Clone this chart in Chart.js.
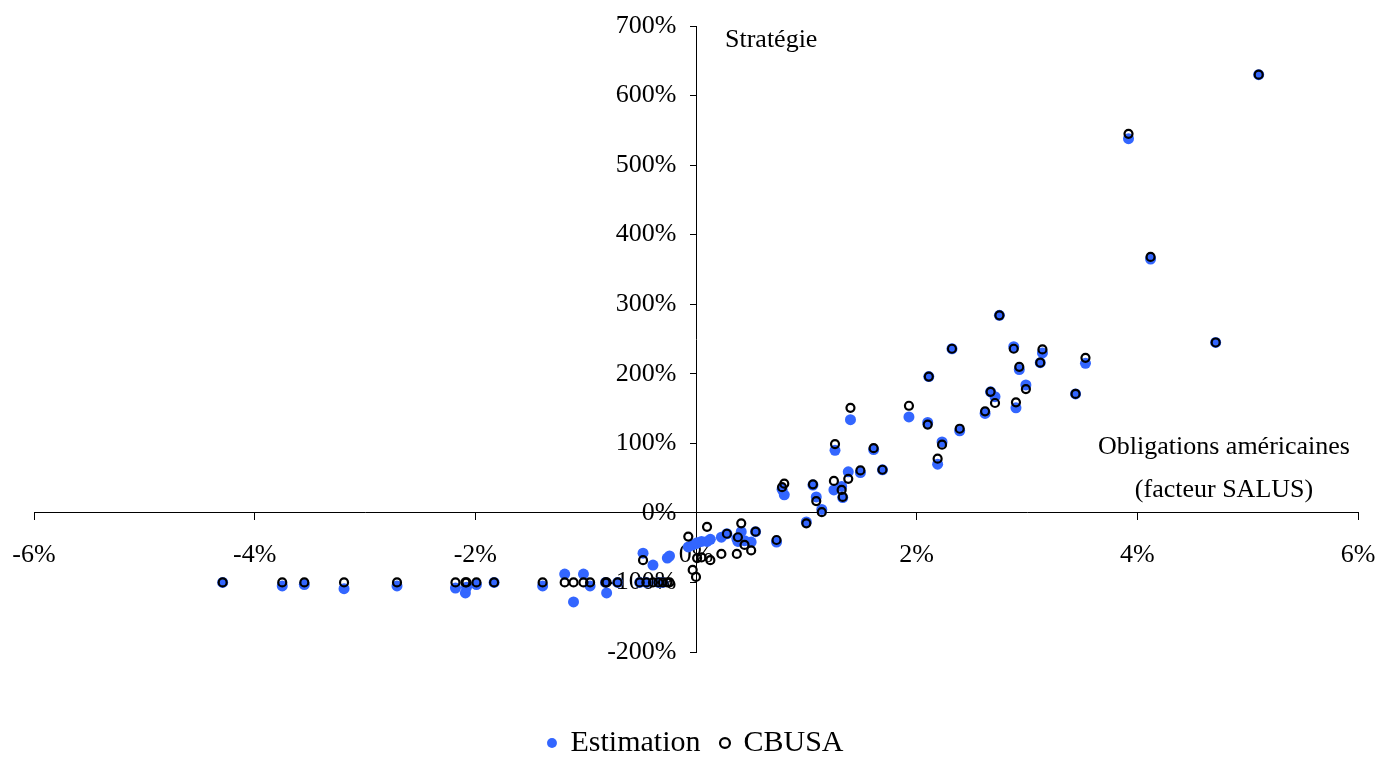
<!DOCTYPE html>
<html>
<head>
<meta charset="utf-8">
<script src="https://cdn.jsdelivr.net/npm/chart.js@4/dist/chart.umd.min.js"></script>
<style>
    html, body { margin: 0; padding: 0; background: #fff; }
    #wrap { width: 1379px; height: 758px; }
</style>
</head>
<body>
<div id="wrap"><canvas id="chart-area"></canvas></div>
<script>
// Monthly returns (%) of the US bond factor (SALUS) against the strategy
var bondReturns = [
    -4.29, -3.75, -3.55, -3.19, -2.71, -2.18, -2.09, -2.08, -1.99, -1.83,
    -1.39, -1.19, -1.11, -1.02, -0.96, -0.82, -0.81, -0.71, -0.51, -0.48,
    -0.45, -0.39, -0.34, -0.30, -0.26, -0.24, -0.07, -0.03, 0.00, 0.01,
    0.05, 0.10, 0.13, 0.23, 0.28, 0.37, 0.38, 0.41, 0.44, 0.50,
    0.54, 0.73, 0.78, 0.80, 1.00, 1.06, 1.09, 1.14, 1.25, 1.26,
    1.32, 1.33, 1.38, 1.40, 1.49, 1.61, 1.69, 1.93, 2.10, 2.11,
    2.19, 2.23, 2.32, 2.39, 2.62, 2.67, 2.71, 2.75, 2.88, 2.90,
    2.93, 2.99, 3.12, 3.14, 3.44, 3.53, 3.92, 4.12, 4.71, 5.10
];
var cbusaReturns = [
    -100, -100, -100, -100, -100, -100, -100, -100, -100, -100,
    -100, -100, -100, -100, -100, -100, -100, -100, -100, -68,
    -100, -100, -100, -100, -100, -100, -34, -82, -92, -65,
    -64, -20, -68, -59, -30, -59, -35, -15, -46, -54,
    -27, -39, 37, 42, -15, 41, 17, 1, 46, 99,
    33, 23, 49, 151, 61, 93, 62, 154, 127, 196,
    78, 98, 236, 121, 146, 174, 158, 284, 236, 159,
    210, 178, 216, 235, 171, 223, 545, 368, 245, 630
];
var estimatedReturns = [
    -100, -105, -103, -109, -105, -108, -115, -107, -103, -100,
    -105, -88, -128, -88, -105, -100, -115, -100, -100, -58,
    -100, -75, -100, -100, -65, -62, -49, -46, -44, -43,
    -41, -41, -38, -35, -30, -37, -41, -27, -40, -42,
    -27, -42, 34, 26, -13, 40, 23, 5, 33, 90,
    38, 22, 59, 134, 58, 91, 62, 138, 130, 196,
    70, 102, 236, 118, 143, 174, 167, 284, 239, 151,
    206, 184, 216, 230, 171, 215, 538, 365, 245, 630
];
var xRange = [-6, 6];
var yRange = [-200, 700];

function toPoints(yValues) {
    return bondReturns.map(function (x, i) {
        return { x: x, y: yValues[i] };
    });
}

// the axes cross at zero, so the edge labels must not shrink the plot
function noScalePadding(scale) {
    scale.paddingLeft = 0;
    scale.paddingRight = 0;
    scale.paddingTop = 0;
    scale.paddingBottom = 0;
}

// Axis captions written next to the crossing axes
var axisCaptions = {
    id: 'axisCaptions',
    afterDraw: function (chart) {
        var ctx = chart.ctx;
        var xs = chart.scales.x;
        var ys = chart.scales.y;
        var x0 = xs.getPixelForValue(0);
        var y0 = ys.getPixelForValue(0);
        ctx.save();
        ctx.fillStyle = '#000';
        ctx.font = '26px "Liberation Serif", "Times New Roman", serif';
        ctx.textBaseline = 'middle';
        ctx.textAlign = 'left';
        ctx.fillText('Stratégie', x0 + 29, chart.chartArea.top + 14);
        ctx.textAlign = 'center';
        var cx = chart.chartArea.right - 134;
        ctx.fillText('Obligations américaines', cx, y0 - 66);
        ctx.fillText('(facteur SALUS)', cx, y0 - 23);
        ctx.restore();
    }
};

Chart.defaults.font.family = '"Liberation Serif", "Times New Roman", serif';
Chart.defaults.color = '#000';

var config = {
    type: 'scatter',
    data: {
        datasets: [{
            label: 'Estimation',
            data: toPoints(estimatedReturns),
            backgroundColor: '#3366ff',
            borderWidth: 0,
            pointRadius: 5.5,
            order: 1
        }, {
            label: 'CBUSA',
            data: toPoints(cbusaReturns),
            backgroundColor: 'rgba(0,0,0,0)',
            borderColor: '#000',
            borderWidth: 2.2,
            pointRadius: 4,
            order: 0
        }]
    },
    options: {
        responsive: true,
        maintainAspectRatio: false,
        animation: false,
        layout: {
            padding: { left: 34, right: 21, top: 26, bottom: -10 }
        },
        scales: {
            x: {
                type: 'linear',
                min: xRange[0],
                max: xRange[1],
                position: { y: 0 },
                afterFit: noScalePadding,
                border: { color: '#000', width: 1 },
                grid: { drawOnChartArea: false, tickLength: 7, color: '#000' },
                ticks: {
                    stepSize: 2,
                    padding: 20,
                    font: { size: 26 },
                    callback: function (v) { return v + '%'; }
                }
            },
            y: {
                type: 'linear',
                min: yRange[0],
                max: yRange[1],
                position: { x: 0 },
                afterFit: noScalePadding,
                border: { color: '#000', width: 1 },
                grid: { drawOnChartArea: false, tickLength: 6, color: '#000' },
                ticks: {
                    stepSize: 100,
                    font: { size: 26 },
                    // labels sit right on the axis line here, spaces keep them off it
                    callback: function (v) { return v + '%   '; }
                }
            }
        },
        plugins: {
            tooltip: { enabled: false },
            legend: {
                position: 'bottom',
                title: {
                    display: true,
                    text: '',
                    font: { size: 10, lineHeight: 1 },
                    padding: { top: 45, bottom: 0 }
                },
                labels: {
                    usePointStyle: true,
                    boxWidth: 7,
                    boxHeight: 7,
                    padding: 21,
                    font: { size: 30 },
                    sort: function (a, b) { return a.datasetIndex - b.datasetIndex; }
                }
            }
        }
    },
    plugins: [axisCaptions]
};

var ctx = document.getElementById('chart-area').getContext('2d');
window.myScatter = new Chart(ctx, config);
</script>
</body>
</html>
